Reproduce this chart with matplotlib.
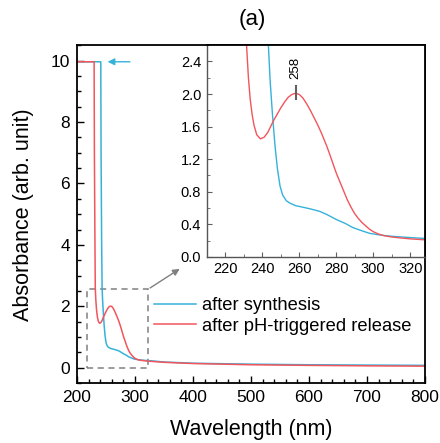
import numpy as np
import matplotlib
matplotlib.use("Agg")
import matplotlib.pyplot as plt
from matplotlib.ticker import MultipleLocator
from matplotlib.patches import Rectangle

plt.rcParams['font.family'] = ['Liberation Sans', 'DejaVu Sans']

# --- datos ---
wl_syn = [200, 241, 241.5, 242.5, 243.3, 244.2, 245.5, 246.9, 248.2, 249.6, 251, 253, 255, 258,
          261, 266, 271, 275, 280, 285, 289, 294, 298, 302, 306, 310, 316, 322, 330,
          350, 400, 500, 600, 700, 800]
abs_syn = [9.96, 9.96, 7.0, 4.0, 2.6, 2.18, 1.75, 1.36, 1.08, 0.87, 0.76, 0.69, 0.66, 0.63,
           0.615, 0.59, 0.56, 0.52, 0.46, 0.41, 0.36, 0.32, 0.29, 0.275, 0.263, 0.254,
           0.244, 0.235, 0.225, 0.19, 0.15, 0.12, 0.10, 0.09, 0.08]

wl_rel = [200, 229.5, 230, 230.8, 231.5, 232.5, 233.5, 234.5, 235.5, 237, 239, 241, 243, 246,
          248, 250, 252, 254, 256, 258, 260, 262, 264, 266, 268, 270, 272, 274.7, 276, 278,
          280, 282, 284, 286, 288, 290, 292, 294, 296, 298, 300, 303, 306, 310, 314, 320,
          328, 350, 400, 500, 600, 700, 800]
abs_rel = [9.96, 9.96, 7.0, 4.5, 2.6, 2.2, 1.93, 1.75, 1.62, 1.5, 1.45, 1.47, 1.53, 1.67,
           1.75, 1.83, 1.90, 1.96, 1.995, 2.01, 1.995, 1.95, 1.88, 1.80, 1.71, 1.62, 1.52,
           1.37, 1.29, 1.16, 1.03, 0.92, 0.81, 0.70, 0.61, 0.53, 0.47, 0.42, 0.38, 0.34,
           0.31, 0.28, 0.26, 0.245, 0.235, 0.222, 0.21, 0.18, 0.14, 0.10, 0.08, 0.065, 0.055]

etiquetas = ['after synthesis', 'after pH-triggered release']
pico = 258

azul = '#35b2da'
rojo = '#f2555c'
gris = '#808080'

fig = plt.figure(figsize=(4.4, 4.43), dpi=100)
ax = fig.add_axes([0.175, 0.135, 0.791, 0.763])

ax.plot(wl_syn, abs_syn, color=azul, lw=1.1, label=etiquetas[0])
ax.plot(wl_rel, abs_rel, color=rojo, lw=1.1, label=etiquetas[1])

ax.set_xlim(200, 800)
ax.set_ylim(-0.5, 10.5)
ax.xaxis.set_major_locator(MultipleLocator(100))
ax.xaxis.set_minor_locator(MultipleLocator(20))
ax.yaxis.set_major_locator(MultipleLocator(2))
ax.yaxis.set_minor_locator(MultipleLocator(0.5))
ax.tick_params(which='both', direction='in', labelsize=12.5, width=1.0)
ax.tick_params(which='major', length=5, pad=5)
ax.tick_params(which='minor', length=3)
for s in ax.spines.values():
    s.set_linewidth(1.3)
ax.set_xlabel('Wavelength (nm)', fontsize=15.5, labelpad=10)
ax.set_ylabel('Absorbance (arb. unit)', fontsize=15.5, labelpad=12)

# flecha azul en y=10
ax.annotate('', xy=(248, 9.96), xytext=(296, 9.96),
            arrowprops=dict(arrowstyle='-|>', color=azul, lw=1.0, mutation_scale=10))

# rectangulo de zoom y flecha hacia el inset
ax.add_patch(Rectangle((218, 0), 104, 2.55, fill=False, ls=(0, (4, 3)),
                       edgecolor=gris, lw=1.1))
ax.annotate('', xy=(381, 3.27), xytext=(322, 2.55),
            arrowprops=dict(arrowstyle='-|>', color=gris, lw=1.0, mutation_scale=10))

ax.legend(loc='center left', bbox_to_anchor=(154 / 440, 1 - 316 / 443),
          bbox_transform=fig.transFigure, frameon=False, fontsize=13.2,
          handlelength=2.3, handletextpad=0.3, labelspacing=0.2,
          borderpad=0, borderaxespad=0)

# --- inset ---
ins = fig.add_axes([0.470, 0.42, 0.496, 0.478])
ins.plot(wl_syn, abs_syn, color=azul, lw=1.0)
ins.plot(wl_rel, abs_rel, color=rojo, lw=1.0)
ins.set_xlim(210, 328)
ins.set_ylim(0, 2.6)
ins.xaxis.set_major_locator(MultipleLocator(20))
ins.xaxis.set_minor_locator(MultipleLocator(10))
ins.yaxis.set_major_locator(MultipleLocator(0.4))
ins.yaxis.set_minor_locator(MultipleLocator(0.2))
ins.tick_params(which='both', direction='in', labelsize=10.5, color='#606060')
ins.tick_params(which='major', length=3.5, pad=4)
ins.tick_params(which='minor', length=2)
for s in ['left', 'bottom']:
    ins.spines[s].set_color('#555555')
    ins.spines[s].set_linewidth(1.0)
ins.spines['top'].set_linewidth(1.3)
ins.spines['right'].set_linewidth(1.3)

ins.plot([pico, pico], [1.94, 2.1], color='#606060', lw=1.5)
ins.text(pico, 2.18, str(pico), rotation=90, ha='center', va='bottom', fontsize=9.5)

fig.text(0.573, 0.955, '(a)', ha='center', va='center', fontsize=16)

fig.savefig('out.png', dpi=100)
